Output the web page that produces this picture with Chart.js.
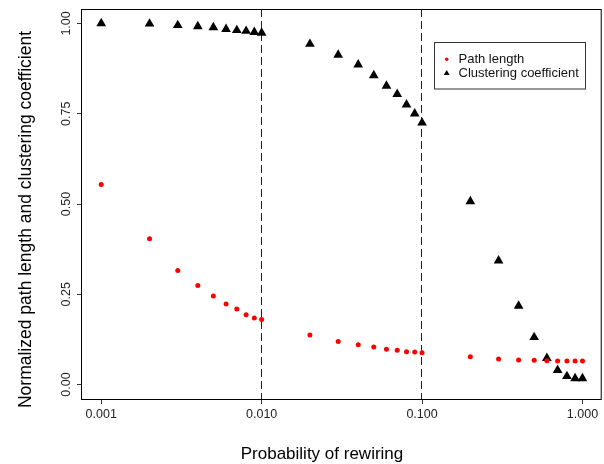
<!DOCTYPE html>
<html>
<head>
<meta charset="utf-8">
<script src="https://cdn.jsdelivr.net/npm/chart.js@4/dist/chart.umd.min.js"></script>
<style>
  html, body { margin: 0; padding: 0; background: #fff; }
  #wrap { width: 604px; height: 464px; }
</style>
</head>
<body>
<div id="wrap"><canvas id="rewiringChart" width="604" height="464"></canvas></div>
<script>
// rewiring probabilities on the x axis
const pRewire = [0.001, 0.002, 0.003, 0.004, 0.005, 0.006, 0.007, 0.008, 0.009,
                 0.01, 0.02, 0.03, 0.04, 0.05, 0.06, 0.07, 0.08, 0.09,
                 0.1, 0.2, 0.3, 0.4, 0.5, 0.6, 0.7, 0.8, 0.9, 1.0];

// normalized path length L(p)/L(0)
const pathLength = [0.554, 0.404, 0.316, 0.274, 0.245, 0.223, 0.209, 0.193, 0.184,
                    0.180, 0.137, 0.119, 0.110, 0.104, 0.098, 0.095, 0.091, 0.090,
                    0.088, 0.077, 0.071, 0.068, 0.067, 0.066, 0.065, 0.065, 0.065, 0.065];

// normalized clustering coefficient C(p)/C(0)
const clustering = [1.000, 0.999, 0.995, 0.992, 0.989, 0.984, 0.981, 0.979, 0.976,
                    0.974, 0.943, 0.913, 0.886, 0.856, 0.827, 0.804, 0.775, 0.750,
                    0.725, 0.507, 0.343, 0.218, 0.131, 0.073, 0.040, 0.023, 0.017, 0.017];

const xTickValues = [0.001, 0.01, 0.1, 1];
const xTickLabels = ['0.001', '0.010', '0.100', '1.000'];
const yTickValues = [0, 0.25, 0.5, 0.75, 1];
const yTickLabels = ['0.00', '0.25', '0.50', '0.75', '1.00'];
const markerLines = [0.01, 0.1];

const seriesNames = ['Path length', 'Clustering coefficient'];
const xTitle = 'Probability of rewiring';
const yTitle = 'Normalized path length and clustering coefficient';

const FONT = '"Liberation Sans", Arial, sans-serif';

const toPoints = ys => pRewire.map((p, i) => ({ x: p, y: ys[i] }));

// dashed vertical lines at 0.01 and 0.1
const dashLines = {
    id: 'dashLines',
    beforeDatasetsDraw(chart) {
        const { ctx, chartArea, scales } = chart;
        ctx.save();
        ctx.strokeStyle = '#222';
        ctx.lineWidth = 1;
        ctx.setLineDash([8, 4]);
        markerLines.forEach(v => {
            const x = Math.round(scales.x.getPixelForValue(v)) - 0.5;
            ctx.beginPath();
            ctx.moveTo(x, chartArea.top);
            ctx.lineTo(x, chartArea.bottom);
            ctx.stroke();
        });
        ctx.restore();
    }
};

// box, rotated y tick labels, axis titles and legend (R style)
const rDecor = {
    id: 'rDecor',
    afterDraw(chart) {
        const { ctx, chartArea, scales } = chart;
        ctx.save();

        // plot box
        ctx.strokeStyle = '#000';
        ctx.lineWidth = 1;
        ctx.strokeRect(chartArea.left - 0.5, chartArea.top + 0.5,
                       chartArea.right - chartArea.left, chartArea.bottom - chartArea.top);

        // y tick labels, rotated
        ctx.fillStyle = '#222';
        ctx.font = '12.5px ' + FONT;
        ctx.textAlign = 'center';
        ctx.textBaseline = 'middle';
        yTickValues.forEach((v, i) => {
            const y = scales.y.getPixelForValue(v);
            ctx.save();
            ctx.translate(67, y);
            ctx.rotate(-Math.PI / 2);
            ctx.fillText(yTickLabels[i], 0, 0);
            ctx.restore();
        });

        // axis titles
        ctx.fillStyle = '#000';
        ctx.font = '17px ' + FONT;
        ctx.textBaseline = 'alphabetic';
        ctx.fillText(xTitle, 322, 459);
        ctx.font = '17.5px ' + FONT;
        ctx.save();
        ctx.translate(31, 219.5);
        ctx.rotate(-Math.PI / 2);
        ctx.fillText(yTitle, 0, 0);
        ctx.restore();

        // legend
        ctx.strokeStyle = '#333';
        ctx.strokeRect(434.5, 42.5, 151, 46.5);
        const ds = chart.data.datasets;
        const rows = [59.3, 73.3];
        ds.forEach((d, i) => {
            ctx.fillStyle = d.backgroundColor;
            ctx.strokeStyle = d.backgroundColor;
            Chart.helpers.drawPoint(ctx, {
                pointStyle: d.pointStyle,
                radius: i === 0 ? 1.8 : 3.4,
                rotation: 0,
                borderWidth: 0
            }, 446.7, rows[i]);
            ctx.fillStyle = '#111';
            ctx.font = '13px ' + FONT;
            ctx.textAlign = 'left';
            ctx.textBaseline = 'middle';
            ctx.fillText(seriesNames[i], 458.5, rows[i]);
        });

        ctx.restore();
    }
};

new Chart(document.getElementById('rewiringChart'), {
    type: 'scatter',
    data: {
        datasets: [
            {
                label: seriesNames[0],
                data: toPoints(pathLength),
                pointStyle: 'circle',
                radius: 2.5,
                backgroundColor: '#ff0000',
                borderWidth: 0
            },
            {
                label: seriesNames[1],
                data: toPoints(clustering),
                pointStyle: 'triangle',
                radius: 5.6,
                backgroundColor: '#000000',
                borderWidth: 0
            }
        ]
    },
    options: {
        responsive: false,
        animation: false,
        layout: {
            autoPadding: false,
            padding: { top: 9, right: 2.3, left: 0, bottom: 0 }
        },
        plugins: {
            legend: { display: false },
            tooltip: { enabled: false }
        },
        scales: {
            x: {
                type: 'logarithmic',
                min: Math.pow(10, -3.12),
                max: Math.pow(10, 0.12),
                afterBuildTicks: scale => {
                    scale.ticks = xTickValues.map(v => ({ value: v }));
                },
                afterFit: scale => {
                    scale.height = 65;
                    scale.paddingLeft = 0;
                    scale.paddingRight = 0;
                },
                border: { display: false },
                grid: {
                    display: true,
                    drawOnChartArea: false,
                    drawTicks: true,
                    tickLength: 5,
                    color: '#333'
                },
                ticks: {
                    autoSkip: false,
                    maxRotation: 0,
                    padding: 3,
                    color: '#222',
                    font: { family: FONT, size: 12.5 },
                    callback: (value) => {
                        const i = xTickValues.indexOf(value);
                        return i >= 0 ? xTickLabels[i] : '';
                    }
                }
            },
            y: {
                min: -0.04,
                max: 1.04,
                afterBuildTicks: scale => {
                    scale.ticks = yTickValues.map(v => ({ value: v }));
                },
                afterFit: scale => {
                    scale.width = 82;
                    scale.paddingTop = 0;
                    scale.paddingBottom = 0;
                },
                border: { display: false },
                grid: {
                    display: true,
                    drawOnChartArea: false,
                    drawTicks: true,
                    tickLength: 5,
                    color: '#333'
                },
                ticks: { display: false }
            }
        }
    },
    plugins: [dashLines, rDecor]
});
</script>
</body>
</html>
